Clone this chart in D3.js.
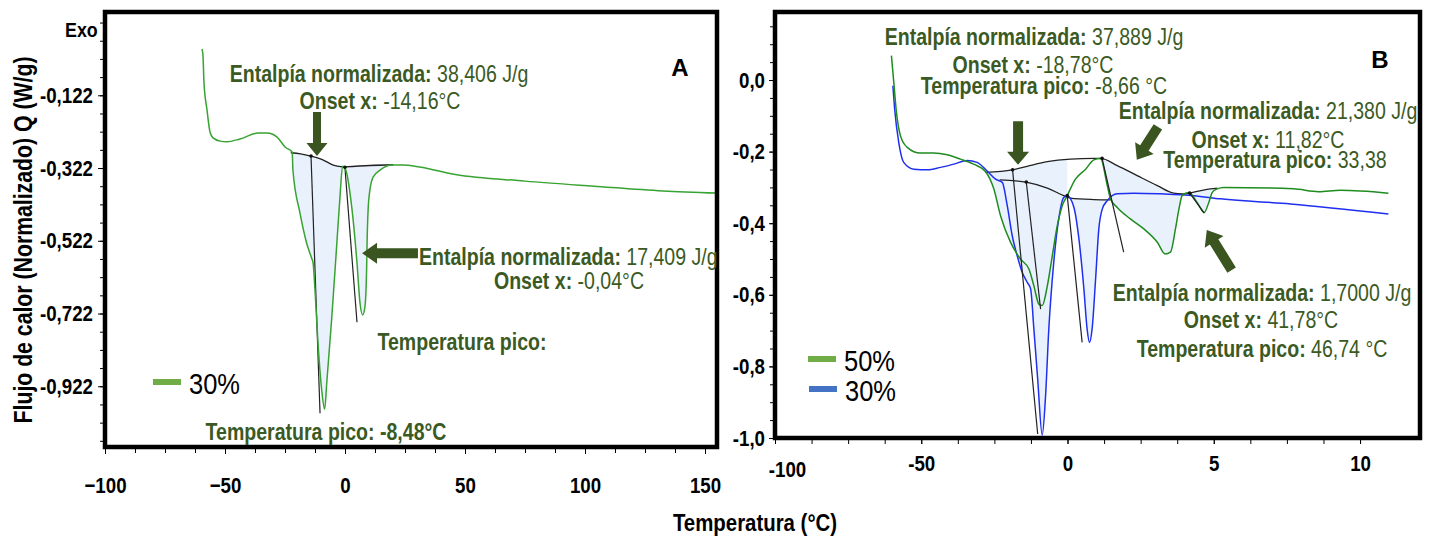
<!DOCTYPE html>
<html lang="es">
<head>
<meta charset="utf-8">
<script src="https://cdn.jsdelivr.net/npm/d3@7"></script>
<style>
  html, body { margin: 0; padding: 0; background: #fff; }
  svg { display: block; }
</style>
</head>
<body>
<svg id="chart" width="1434" height="542"></svg>
<script>
// ---- Panel A: 30 % sample ----
const tempA = [-59.6,-59.2,-58.75,-57.5,-56.25,-55,-52,-49.2,-43.75,-36.25,
  -32.5,-28.3,-25,-22,-21.7,-18.75,-16,-13.9,-13.3,-12.5,
  -11.25,-9.7,-8.48,-7.6,-5.5,-3.5,-2.1,-1,0,2.8,
  5,6.25,7.4,8.3,9,9.2,10,11.7,14.6,19.5,
  24,31,46,75,103.7,132.4,155];
const flowA = [0.005,-0.011,-0.088,-0.162,-0.223,-0.239,-0.248,-0.250,-0.242,-0.226,
  -0.226,-0.237,-0.264,-0.278,-0.3275,-0.446,-0.528,-0.570,-0.583,-0.658,
  -0.803,-0.933,-0.985,-0.913,-0.732,-0.539,-0.402,-0.317,-0.322,-0.429,
  -0.583,-0.693,-0.726,-0.704,-0.603,-0.528,-0.402,-0.347,-0.328,-0.314,
  -0.314,-0.319,-0.340,-0.358,-0.372,-0.385,-0.391];
// integration baselines of panel A
const baseA1T = [-22.6,-18.5,-14.3,-9.0,-4.9,-1.0];
const baseA1V = [-0.280,-0.283,-0.289,-0.300,-0.314,-0.319];
const baseA2T = [-0.3,10.4,20.1];
const baseA2V = [-0.319,-0.315,-0.313];
// onset tangents of panel A: [t0, v0, t1, v1]
const tangA = [[-14.16,-0.289,-10.4,-0.996],[-0.04,-0.320,5.0,-0.746]];

// ---- Panel B: 50 % and 30 % samples ----
const temp50 = [-60.2,-59.4,-58.5,-57.1,-54.8,-50.3,-45.8,-41.1,-36.6,-32.1,
  -28,-25.2,-22.9,-19.5,-16.1,-13.2,-11.5,-9.8,-8.66,-6.9,
  -5.2,-3.5,-1.8,-0.1,2.7,6.2,9.0,11.3,13.6,14.7,
  17,21.5,26.1,30.7,33.38,35.2,36.9,38.1,39.2,41.5,
  44.3,46.74,48.3,49.5,51.2,53.3,77.3,85.8,93.3,109.7];
const flow50 = [0.068,-0.006,-0.089,-0.156,-0.188,-0.204,-0.204,-0.209,-0.221,-0.235,
  -0.256,-0.304,-0.379,-0.453,-0.5,-0.528,-0.575,-0.626,-0.630,-0.575,
  -0.491,-0.407,-0.351,-0.323,-0.277,-0.249,-0.223,-0.219,-0.295,-0.332,
  -0.356,-0.388,-0.416,-0.453,-0.486,-0.481,-0.416,-0.360,-0.323,-0.314,
  -0.342,-0.370,-0.342,-0.314,-0.304,-0.300,-0.304,-0.312,-0.308,-0.316];
const temp30 = [-59.7,-59.1,-57.7,-56,-52.5,-48,-43.4,-38.9,-34.3,-30.9,
  -27.5,-24.6,-22.3,-20.6,-18.9,-17.2,-15.5,-13.8,-12.6,-11.5,
  -10.2,-8.65,-7.5,-6.4,-4.7,-3.0,-1.3,-0.1,2.2,3.9,
  5.6,6.7,7.5,8.4,9.6,10.7,11.9,13.6,17,22.7,
  31.8,43.2,52.3,76.2,109.7];
const flow30 = [-0.016,-0.081,-0.174,-0.230,-0.249,-0.251,-0.244,-0.235,-0.225,-0.230,
  -0.254,-0.277,-0.286,-0.351,-0.435,-0.491,-0.537,-0.565,-0.584,-0.696,
  -0.835,-0.992,-0.882,-0.696,-0.509,-0.388,-0.328,-0.323,-0.356,-0.444,
  -0.584,-0.696,-0.733,-0.696,-0.556,-0.416,-0.360,-0.337,-0.318,-0.316,
  -0.318,-0.323,-0.332,-0.346,-0.374];
const base50T = [-28,-18.9,-13.8,-6.9,1.0,9.0,11.3,17,23.8,30.7,36.3,39.2,41.5,45.5,48.9,51.2];
const base50V = [-0.258,-0.251,-0.241,-0.228,-0.221,-0.219,-0.219,-0.239,-0.267,-0.295,-0.316,-0.318,-0.316,-0.309,-0.304,-0.302];
const base30T = [-23.2,-13.8,-6.9,-1.3,1.0,9.0,14.7];
const base30V = [-0.279,-0.286,-0.302,-0.323,-0.330,-0.334,-0.335];
const tangB = [[-18.78,-0.251,-10.2,-0.989],[-14.1,-0.285,-9.2,-0.640],[-0.1,-0.323,5.0,-0.733],
  [11.82,-0.219,19.2,-0.481],[41.78,-0.316,46.74,-0.372]];

// ---- ticks ----
const xTicksA = [-100,-50,0,50,100,150];
const yTicksA = [-0.122,-0.322,-0.522,-0.722,-0.922];
const yLabelsA = ["-0,122","-0,322","-0,522","-0,722","-0,922"];
const xTicksB = [-100,-50,0,50,100];
const xLabelsB = ["-100","-50","0","5","10"];
const yTicksB = [0,-0.2,-0.4,-0.6,-0.8,-1.0];
const yLabelsB = ["0,0","-0,2","-0,4","-0,6","-0,8","-1,0"];

// ---- styling ----
// narrow type: Arial-metric face squeezed horizontally
const FONT = '"Liberation Sans", Arial, sans-serif';
const SQ = 0.85;
const NOTE = "#3b5a23";
const FILL = "#e9f2fc";
const svg = d3.select("#chart");
svg.append("rect").attr("width",1434).attr("height",542).attr("fill","#fff");

const xA = d3.scaleLinear().domain([-100,155]).range([105,717]);
const yA = d3.scaleLinear().domain([-1.089,0.107]).range([447,12]);
const xB = d3.scaleLinear().domain([-100,120.5]).range([775,1420]);
const yB = d3.scaleLinear().domain([-1.0,0.19]).range([438,12]);

const zip = (t,v) => t.map((d,i)=>({t:d, v:v[i]}));

function ntext(x, y, size, weight, anchor, rot){
  return svg.append("text")
    .attr("transform", `translate(${x},${y})` + (rot ? ` rotate(${rot})` : "") + ` scale(${SQ},1)`)
    .attr("text-anchor", anchor || "start")
    .attr("font-family", FONT).attr("font-size", size)
    .attr("font-weight", weight || "normal").attr("fill", "#000");
}

function clip(id, x, y){
  svg.append("clipPath").attr("id",id).append("rect")
    .attr("x",x.range()[0]).attr("y",y.range()[1])
    .attr("width",x.range()[1]-x.range()[0]).attr("height",y.range()[0]-y.range()[1]);
}
clip("clipA", xA, yA); clip("clipB", xB, yB);

function fillPeak(g, x, y, temps, flows, bT, bV, t0, t1){
  const base = d3.scaleLinear().domain(bT).range(bV).clamp(true);
  const pts = zip(temps, flows).filter(d => d.t >= t0 && d.t <= t1);
  g.append("path").datum(pts)
    .attr("d", d3.area().x(d=>x(d.t)).y0(d=>y(base(d.t))).y1(d=>y(d.v)).curve(d3.curveMonotoneX))
    .attr("fill", FILL).attr("stroke","none");
}
function drawLine(g, x, y, pts, color, w){
  g.append("path").datum(pts)
    .attr("d", d3.line().x(d=>x(d.t)).y(d=>y(d.v)).curve(d3.curveMonotoneX))
    .attr("fill","none").attr("stroke",color).attr("stroke-width",w)
    .attr("stroke-linejoin","round");
}
function drawTangents(g, x, y, list){
  g.selectAll(null).data(list).join("line")
    .attr("x1",d=>x(d[0])).attr("y1",d=>y(d[1]))
    .attr("x2",d=>x(d[2])).attr("y2",d=>y(d[3]))
    .attr("stroke","#222").attr("stroke-width",1.2);
}
function drawDots(g, x, y, list){
  g.selectAll(null).data(list).join("circle")
    .attr("cx",d=>x(d[0])).attr("cy",d=>y(d[1])).attr("r",1.8).attr("fill","#111");
}
function arrow(x, y, t0, v0, t1, v1, sw, hw, hl){
  const x0=x(t0), y0=y(v0), x1=x(t1), y1=y(v1);
  const L=Math.hypot(x1-x0,y1-y0), ux=(x1-x0)/L, uy=(y1-y0)/L, nx=-uy, ny=ux;
  const bx=x1-ux*hl, by=y1-uy*hl;
  const p=[[x0+nx*sw/2,y0+ny*sw/2],[bx+nx*sw/2,by+ny*sw/2],[bx+nx*hw/2,by+ny*hw/2],[x1,y1],
           [bx-nx*hw/2,by-ny*hw/2],[bx-nx*sw/2,by-ny*sw/2],[x0-nx*sw/2,y0-ny*sw/2]];
  svg.append("polygon").attr("points",p.map(q=>q.join(",")).join(" ")).attr("fill","#3a5520");
}
function note(x, y, bold, value, anchor){
  const t = ntext(x, y, 23, "normal", anchor || "middle").attr("fill", NOTE);
  t.append("tspan").attr("font-weight","bold").text(bold);
  if (value) t.append("tspan").attr("font-weight","normal").text(value);
}

// ================= Panel A =================
const gA = svg.append("g").attr("clip-path","url(#clipA)");
fillPeak(gA, xA, yA, tempA, flowA, baseA1T, baseA1V, -22.6, -1.0);
fillPeak(gA, xA, yA, tempA, flowA, baseA2T, baseA2V, 0, 19.5);
drawLine(gA, xA, yA, zip(baseA1T, baseA1V), "#222", 1.3);
drawLine(gA, xA, yA, zip(baseA2T, baseA2V), "#222", 1.3);
drawTangents(gA, xA, yA, tangA);
drawLine(gA, xA, yA, zip(tempA, flowA), "#38a332", 1.5);
drawDots(gA, xA, yA, tangA);

// ================= Panel B =================
const gB = svg.append("g").attr("clip-path","url(#clipB)");
fillPeak(gB, xB, yB, temp50, flow50, base50T, base50V, -28, -0.1);
fillPeak(gB, xB, yB, temp50, flow50, base50T, base50V, 11.3, 39.2);
fillPeak(gB, xB, yB, temp50, flow50, base50T, base50V, 39.2, 51.2);
fillPeak(gB, xB, yB, temp30, flow30, base30T, base30V, -22.3, 13.6);
drawLine(gB, xB, yB, zip(base50T, base50V), "#222", 1.3);
drawLine(gB, xB, yB, zip(base30T, base30V), "#222", 1.3);
drawLine(gB, xB, yB, zip(temp30, flow30), "#1f2ff0", 1.5);
drawLine(gB, xB, yB, zip(temp50, flow50), "#1f8c1f", 1.5);
drawTangents(gB, xB, yB, tangB);
drawDots(gB, xB, yB, tangB);

// ---- axes ----
function styleAxis(g){
  g.select(".domain").remove();
  g.selectAll("line").attr("stroke","#000").attr("stroke-width",1);
  g.selectAll("text").each(function(){
    const el = d3.select(this);
    const x0 = +el.attr("x") || 0;
    el.attr("x", x0 / SQ).attr("transform", `scale(${SQ},1)`);
  }).attr("font-family",FONT).attr("font-weight","bold")
    .attr("font-size",22).attr("fill","#000");
}
const minorA_y = d3.range(-1.072, 0.11, 0.05);
const minorX = d3.range(-100, 156, 12.5);
svg.append("g").attr("transform","translate(103,0)")
  .call(d3.axisLeft(yA).tickValues(minorA_y).tickSize(3).tickFormat("")).call(styleAxis);
svg.append("g").attr("transform","translate(103,0)")
  .call(d3.axisLeft(yA).tickValues(yTicksA).tickFormat((d,i)=>yLabelsA[i]).tickSize(5).tickPadding(5)).call(styleAxis);
svg.append("g").attr("transform","translate(0,449)")
  .call(d3.axisBottom(xA).tickValues(minorX).tickSize(4).tickFormat("")).call(styleAxis);
svg.append("g").attr("transform","translate(0,449)")
  .call(d3.axisBottom(xA).tickValues(xTicksA).tickFormat(d3.format("d")).tickSize(5).tickPadding(23)).call(styleAxis);

const minorB_y = d3.range(-1.0, 0.2, 0.05);
const minorBx = d3.range(-100, 111, 12.5);
svg.append("g").attr("transform","translate(773,0)")
  .call(d3.axisLeft(yB).tickValues(minorB_y).tickSize(3).tickFormat("")).call(styleAxis);
svg.append("g").attr("transform","translate(773,0)")
  .call(d3.axisLeft(yB).tickValues(yTicksB).tickFormat((d,i)=>yLabelsB[i]).tickSize(4).tickPadding(4)).call(styleAxis);
svg.append("g").attr("transform","translate(0,440)")
  .call(d3.axisBottom(xB).tickValues(minorBx).tickSize(4).tickFormat("")).call(styleAxis);
const axB = svg.append("g").attr("transform","translate(0,440)")
  .call(d3.axisBottom(xB).tickValues(xTicksB).tickFormat((d,i)=>xLabelsB[i]).tickSize(4).tickPadding(11)).call(styleAxis);
// first label sits clear of the value axis, a little lower
axB.selectAll(".tick text").filter(d => d === -100).attr("x", 12 / SQ).attr("y", 21);

// ---- frames ----
[[xA,yA],[xB,yB]].forEach(([x,y])=>{
  svg.append("rect").attr("x",x.range()[0]).attr("y",y.range()[1])
    .attr("width",x.range()[1]-x.range()[0]).attr("height",y.range()[0]-y.range()[1])
    .attr("fill","none").attr("stroke","#000").attr("stroke-width",4.5);
});

// ---- arrows ----
arrow(xA, yA, -11.67,-0.168, -11.67,-0.289, 8, 21, 13);
arrow(xA, yA, 30.4,-0.556, 7.1,-0.556, 10, 21, 15);
arrow(xB, yB, -16.9,-0.115, -16.9,-0.237, 10, 22, 13);
arrow(xB, yB, 30.9,-0.131, 23.7,-0.223, 10, 22, 14);
arrow(xB, yB, 56.1,-0.531, 47.6,-0.419, 10, 22, 14);

// ---- annotations, panel A ----
note(379, 82, "Entalpía normalizada: ", "38,406 J/g");
note(380, 109, "Onset x: ", "-14,16°C");
note(419, 265, "Entalpía normalizada: ", "17,409 J/g", "start");
note(569, 289, "Onset x: ", "-0,04°C");
note(462, 350, "Temperatura pico:", "");
note(326, 440, "Temperatura pico: -8,48°C", "");

// ---- annotations, panel B ----
note(1034, 45, "Entalpía normalizada: ", "37,889 J/g");
note(1033, 73, "Onset x: ", "-18,78°C");
note(1044, 94, "Temperatura pico: ", "-8,66 °C");
note(1268, 119, "Entalpía normalizada: ", "21,380 J/g");
note(1268, 148, "Onset x: ", "11,82°C");
note(1275, 168, "Temperatura pico: ", "33,38");
note(1262, 301, "Entalpía normalizada: ", "1,7000 J/g");
note(1261, 328, "Onset x: ", "41,78°C");
note(1262, 357, "Temperatura pico: ", "46,74 °C");

// ---- panel letters, Exo, titles ----
svg.append("text").attr("x",680).attr("y",76).attr("text-anchor","middle")
  .attr("font-family",FONT).attr("font-weight","bold").attr("font-size",24).text("A");
svg.append("text").attr("x",1380).attr("y",68).attr("text-anchor","middle")
  .attr("font-family",FONT).attr("font-weight","bold").attr("font-size",24).text("B");
ntext(65, 37, 21, "bold").text("Exo");
ntext(32, 240, 25, "bold", "middle", -90).text("Flujo de calor (Normalizado) Q (W/g)");
ntext(755, 531, 24, "bold", "middle").text("Temperatura (°C)");

// ---- legends ----
function legendItem(x, y, color, label){
  svg.append("line").attr("x1",x).attr("x2",x+28).attr("y1",y).attr("y2",y)
    .attr("stroke",color).attr("stroke-width",6);
  ntext(x+36, y+12, 30, "normal").text(label);
}
legendItem(153, 382, "#70ad47", "30%");
legendItem(808, 359, "#70ad47", "50%");
legendItem(809, 389, "#4472c4", "30%");
</script>
</body>
</html>
